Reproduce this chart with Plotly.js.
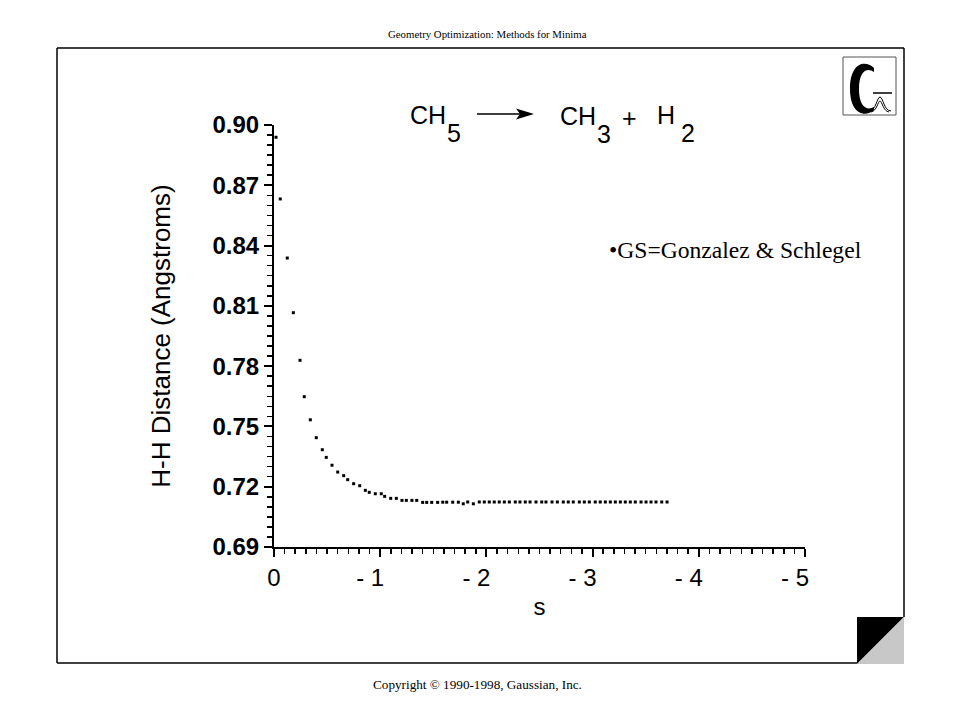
<!DOCTYPE html>
<html><head><meta charset="utf-8">
<script src="https://cdn.plot.ly/plotly-3.0.1.min.js"></script>
<style>html,body{margin:0;padding:0;background:#fff}#chart{width:960px;height:720px}</style>
</head><body><div id="chart"></div>
<script>
// Reaction path coordinate s and H-H distance (Angstroms)
const s = [-0.019, -0.059, -0.125, -0.182, -0.245, -0.285, -0.342, -0.398, -0.455, -0.492,
  -0.546, -0.600, -0.656, -0.694, -0.750, -0.807, -0.860, -0.897, -0.954, -1.010,
  -1.042, -1.099, -1.152, -1.205, -1.246, -1.299, -1.344, -1.400, -1.438, -1.485,
  -1.541, -1.589, -1.626, -1.683, -1.736, -1.782, -1.824, -1.877,
  -1.933, -1.980, -2.027, -2.074, -2.121, -2.169, -2.216, -2.272, -2.316, -2.366,
  -2.411, -2.467, -2.521, -2.561, -2.618, -2.668, -2.724, -2.771, -2.818, -2.875,
  -2.922, -2.969, -3.025, -3.072, -3.120, -3.167, -3.214, -3.261, -3.308, -3.355,
  -3.402, -3.456, -3.503, -3.550, -3.597, -3.651, -3.701];
const hh = [0.8939, 0.8632, 0.8338, 0.8066, 0.7829, 0.7648, 0.7533, 0.7444, 0.7384, 0.7346,
  0.7307, 0.7273, 0.7255, 0.7235, 0.7215, 0.7205, 0.7182, 0.7172, 0.7165, 0.7165,
  0.7152, 0.7142, 0.7142, 0.7132, 0.7132, 0.7132, 0.7132, 0.7122, 0.7122, 0.7122,
  0.7122, 0.7123, 0.7123, 0.7123, 0.7123, 0.7115, 0.7124, 0.7115,
  0.7124, 0.7124, 0.7124, 0.7124, 0.7124, 0.7124, 0.7124, 0.7124, 0.7124, 0.7124,
  0.7124, 0.7124, 0.7124, 0.7124, 0.7124, 0.7124, 0.7124, 0.7124, 0.7124, 0.7124,
  0.7124, 0.7124, 0.7124, 0.7124, 0.7124, 0.7124, 0.7124, 0.7124, 0.7124, 0.7124,
  0.7124, 0.7124, 0.7124, 0.7124, 0.7124, 0.7124, 0.7124];
const xTickVals = [0, -1, -2, -3, -4, -5];
const xTickText = ['0', '- 1\u00a0\u00a0\u00a0', '- 2\u00a0\u00a0\u00a0', '- 3\u00a0\u00a0\u00a0', '- 4\u00a0\u00a0\u00a0', '- 5\u00a0\u00a0\u00a0'];
const xTitle = 's';
const yTitle = 'H-H Distance (Angstroms)';
const headerText = 'Geometry Optimization: Methods for Minima';
const footerText = 'Copyright \u00a9 1990-1998, Gaussian, Inc.';
const noteText = '\u2022GS=Gonzalez &amp; Schlegel';

// pixel -> paper helpers for decorations
const L = 274, R = 805, T = 125, B = 547;
const PX = p => (p - L) / (R - L);
const PY = p => (B - p) / (B - T);
function path(tokens) {
  let out = '', isX = true;
  tokens.forEach(t => {
    if (typeof t === 'string') { out += t + ' '; isX = true; }
    else { out += (isX ? PX(t) : PY(t)).toFixed(5) + (isX ? ',' : ' '); isX = !isX; }
  });
  return out.trim();
}
function line(x0, y0, x1, y1, w) {
  return {type: 'line', xref: 'paper', yref: 'paper', x0: PX(x0), y0: PY(y0), x1: PX(x1), y1: PY(y1),
    line: {color: 'black', width: w || 1.5}};
}
const sans = 'Liberation Sans, Arial, sans-serif';
const serif = 'Liberation Serif, Times New Roman, serif';
function txt(t, x, y, size, fam, xa) {
  return {text: t, xref: 'paper', yref: 'paper', x: PX(x), y: PY(y), xanchor: xa || 'center', yanchor: 'middle',
    showarrow: false, font: {family: fam || sans, size: size, color: 'black'}};
}

const shapes = [
  // frame
  line(57, 48, 904, 48), line(57, 48, 57, 663), line(57, 663, 857, 663), line(904, 48, 904, 617),
  // corner triangles
  {type: 'path', xref: 'paper', yref: 'paper', path: path(['M', 857, 617, 'L', 904, 617, 'L', 857, 664, 'Z']),
    fillcolor: 'black', line: {width: 0}},
  {type: 'path', xref: 'paper', yref: 'paper', path: path(['M', 904, 617, 'L', 904, 664, 'L', 857, 664, 'Z']),
    fillcolor: '#c8c8c8', line: {width: 0}},
  // logo box
  {type: 'rect', xref: 'paper', yref: 'paper', x0: PX(843), y0: PY(57), x1: PX(896), y1: PY(115),
    line: {color: '#555', width: 1}},
  // logo C
  {type: 'path', xref: 'paper', yref: 'paper',
    path: path(['M', 874, 68, 'C', 864, 59, 850, 64, 850, 89, 'C', 850, 114, 865, 118, 874, 110,
      'L', 874, 107, 'C', 867, 111, 859, 107, 859, 89, 'C', 859, 71, 867, 67, 874, 72, 'Z']),
    fillcolor: 'black', line: {width: 0}},
  line(873, 93, 892, 93, 1.5),
  {type: 'path', xref: 'paper', yref: 'paper',
    path: path(['M', 869, 111, 'C', 876, 111, 877, 97, 880, 97, 'C', 883, 97, 884, 111, 891, 111]),
    line: {color: 'black', width: 1}},
  {type: 'path', xref: 'paper', yref: 'paper',
    path: path(['M', 871, 112, 'C', 877, 111, 878, 101, 880, 101, 'C', 882, 101, 883, 111, 889, 112]),
    line: {color: 'black', width: 1}},
  // reaction arrow
  line(477, 114, 522, 114, 1.5),
  {type: 'path', xref: 'paper', yref: 'paper', path: path(['M', 534, 114, 'L', 516, 108.5, 'L', 520, 114, 'L', 516, 119.5, 'Z']),
    fillcolor: 'black', line: {width: 0}}
];

const annotations = [
  txt(headerText, 487, 34, 10.8, serif),
  txt(footerText, 477, 684, 13.2, serif),
  txt(noteText, 607, 250, 23.6, serif, 'left'),
  txt('CH', 408, 115, 25, sans, 'left'),
  txt('5', 454, 133, 25),
  txt('CH', 558, 116, 25, sans, 'left'),
  txt('3', 604, 134, 25),
  txt('+', 629, 118, 25),
  txt('H', 655, 115, 25, sans, 'left'),
  txt('2', 688, 133, 25)
];

const trace = {
  type: 'scatter', mode: 'markers', x: s, y: hh,
  marker: {color: 'black', size: 3, symbol: 'square'}, cliponaxis: false, hoverinfo: 'skip'
};

const axisCommon = {
  showline: true, linewidth: 2, linecolor: 'black', showgrid: false, zeroline: false,
  ticks: 'outside', ticklen: 8, tickwidth: 2, tickcolor: 'black'
};

const layout = {
  width: 960, height: 720,
  margin: {l: L, r: 960 - R, t: T, b: 720 - B},
  paper_bgcolor: 'white', plot_bgcolor: 'white', showlegend: false,
  xaxis: Object.assign({}, axisCommon, {
    range: [0, -5], tickmode: 'array', tickvals: xTickVals, ticktext: xTickText,
    tickfont: {family: sans, size: 24, color: 'black'},
    minor: {tickmode: 'linear', tick0: 0, dtick: 0.1, ticks: 'outside', ticklen: 5, tickwidth: 1.5, tickcolor: 'black', showgrid: false},
    title: {text: xTitle, font: {family: sans, size: 24, color: 'black'}, standoff: 8}
  }),
  yaxis: Object.assign({}, axisCommon, {
    range: [0.69, 0.90], tickmode: 'linear', tick0: 0.69, dtick: 0.03, tickformat: '.2f',
    tickfont: {family: sans, size: 24, color: 'black', weight: 'bold'},
    minor: {tickmode: 'linear', tick0: 0.69, dtick: 0.005, ticks: 'outside', ticklen: 5, tickwidth: 1.5, tickcolor: 'black', showgrid: false},
    title: {text: yTitle, font: {family: sans, size: 26, color: 'black'}, standoff: 34}
  }),
  shapes: shapes,
  annotations: annotations
};

Plotly.newPlot('chart', [trace], layout, {displayModeBar: false, staticPlot: true});
</script>
</body></html>
